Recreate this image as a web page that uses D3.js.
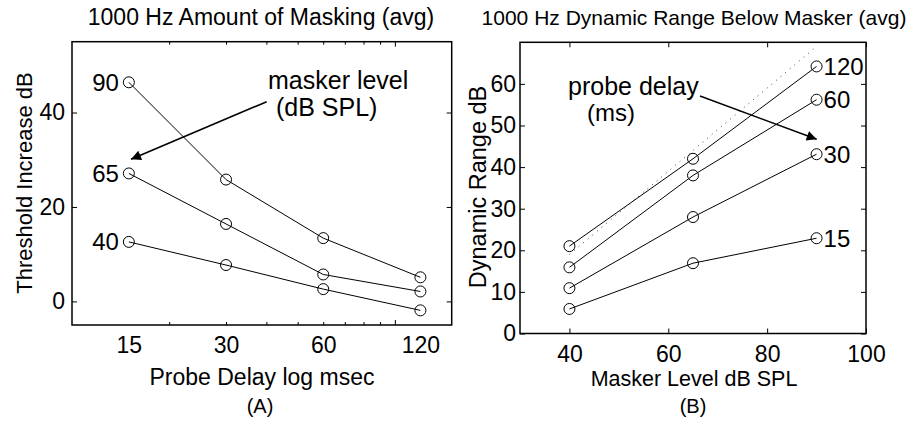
<!DOCTYPE html>
<html>
<head>
<meta charset="utf-8">
<script src="https://cdn.jsdelivr.net/npm/d3@7"></script>
<style>
  body { margin: 0; background: #fff; }
  svg { display: block; font-family: "Liberation Sans", Arial, Helvetica, sans-serif; }
  .tick line { stroke: #000; }
  .tick text { fill: #000; }
</style>
</head>
<body>
<div id="chart"></div>
<script>
// ---- panel A data: threshold increase vs probe delay
var delaysA = [15, 30, 60, 120];
var maskerLevels = [90, 65, 40];
var shift90 = [46.4, 25.8, 13.4, 5.1];
var shift65 = [27.1, 16.4, 5.7, 2.1];
var shift40 = [12.6, 7.7, 2.6, -1.9];
var xTickLabelsA = [15, 30, 60, 120];
var xMinorTicksA = [20, 30, 40, 50, 60, 70, 80, 90];
var xMajorTicksA = [100];
var yTicksA = [0, 20, 40];

// ---- panel B data: dynamic range vs masker level
var maskerB = [40, 65, 90];
var probeDelays = [120, 60, 30, 15];
var range120 = [21, 42, 64.2];
var range60 = [15.9, 38, 56.2];
var range30 = [10.9, 28, 43.1];
var range15 = [5.9, 16.9, 22.9];
var refLineX = [40, 90];
var refLineY = [19, 69];
var xTicksB = [40, 60, 80, 100];
var yTicksB = [0, 10, 20, 30, 40, 50, 60];

var width = 909, height = 422;
var tickFont = 23, annFont = 24, noteFont = 25;

var svg = d3.select("#chart").append("svg")
    .attr("width", width)
    .attr("height", height);

svg.append("defs").append("marker")
    .attr("id", "arrow")
    .attr("viewBox", "0 0 10 10")
    .attr("refX", 10).attr("refY", 5)
    .attr("markerUnits", "userSpaceOnUse")
    .attr("markerWidth", 16).attr("markerHeight", 10)
    .attr("orient", "auto")
    .append("path")
    .attr("d", "M0,0 L10,5 L0,10 z")
    .attr("fill", "#000");

function styleAxis(g) {
    g.select(".domain").remove();
    g.selectAll(".tick text").attr("font-size", tickFont);
}

function drawBox(g, x0, x1, y0, y1) {
    g.append("rect")
        .attr("x", x0).attr("y", y1)
        .attr("width", x1 - x0).attr("height", y0 - y1)
        .attr("fill", "none")
        .attr("stroke", "#000")
        .attr("stroke-width", 1.5);
}

function drawSeries(g, x, y, xs, ys) {
    var pts = xs.map(function (d, i) { return [x(d), y(ys[i])]; });
    g.append("path")
        .attr("d", d3.line()(pts))
        .attr("fill", "none")
        .attr("stroke", "#000")
        .attr("stroke-width", 1);
    g.selectAll(null)
        .data(pts)
        .enter()
        .append("circle")
        .attr("cx", function (p) { return p[0]; })
        .attr("cy", function (p) { return p[1]; })
        .attr("r", 5.5)
        .attr("fill", "none")
        .attr("stroke", "#000")
        .attr("stroke-width", 1);
}

function addText(g, x, y, str, size, anchor) {
    return g.append("text")
        .attr("x", x).attr("y", y)
        .attr("font-size", size)
        .attr("text-anchor", anchor || "middle")
        .attr("fill", "#000")
        .text(str);
}

// ================= panel A =================
var gA = svg.append("g");
var xA = d3.scaleLog().domain([10, 150]).range([72, 451.7]);
var yA = d3.scaleLinear().domain([-5, 55]).range([325, 41.7]);

gA.append("g").attr("transform", "translate(0,325)")
    .call(d3.axisBottom(xA).tickValues(xTickLabelsA).tickSize(0).tickPadding(12).tickFormat(d3.format("d")))
    .call(styleAxis);
gA.append("g").attr("transform", "translate(0,325)")
    .call(d3.axisBottom(xA).tickValues(xMinorTicksA).tickSize(-3).tickFormat(""))
    .call(styleAxis);
gA.append("g").attr("transform", "translate(0,325)")
    .call(d3.axisBottom(xA).tickValues(xMajorTicksA).tickSize(-5).tickFormat(""))
    .call(styleAxis);
gA.append("g").attr("transform", "translate(0,41.7)")
    .call(d3.axisTop(xA).tickValues(xMinorTicksA).tickSize(-3).tickFormat(""))
    .call(styleAxis);
gA.append("g").attr("transform", "translate(0,41.7)")
    .call(d3.axisTop(xA).tickValues(xMajorTicksA).tickSize(-5).tickFormat(""))
    .call(styleAxis);
gA.append("g").attr("transform", "translate(72,0)")
    .call(d3.axisLeft(yA).tickValues(yTicksA).tickSize(-5).tickPadding(7))
    .call(styleAxis);
gA.append("g").attr("transform", "translate(451.7,0)")
    .call(d3.axisRight(yA).tickValues(yTicksA).tickSize(-5).tickFormat(""))
    .call(styleAxis);
drawBox(gA, 72, 451.7, 325, 41.7);

[shift90, shift65, shift40].forEach(function (s, i) {
    drawSeries(gA, xA, yA, delaysA, s);
    addText(gA, xA(delaysA[0]) - 10, yA(s[0]), maskerLevels[i], annFont, "end")
        .attr("dominant-baseline", "central");
});

gA.append("line")
    .attr("x1", 266.7).attr("y1", 101.7)
    .attr("x2", 131).attr("y2", 159.3)
    .attr("stroke", "#000").attr("stroke-width", 1.6)
    .attr("marker-end", "url(#arrow)");
addText(gA, 268, 89, "masker level", noteFont, "start");
addText(gA, 276, 116, "(dB SPL)", noteFont, "start");

addText(gA, 261, 25, "1000 Hz Amount of Masking (avg)", 23);
addText(gA, 262, 385, "Probe Delay log msec", 23);
addText(gA, 260, 413, "(A)", 20);
addText(gA, 0, 0, "Threshold Increase dB", 22)
    .attr("transform", "translate(32,183) rotate(-90)");

// ================= panel B =================
var gB = svg.append("g");
var xB = d3.scaleLinear().domain([30, 100]).range([520, 866]);
var yB = d3.scaleLinear().domain([0, 70]).range([333.5, 42.3]);

gB.append("g").attr("transform", "translate(0,333.5)")
    .call(d3.axisBottom(xB).tickValues(xTicksB).tickSize(-5).tickPadding(12))
    .call(styleAxis);
gB.append("g").attr("transform", "translate(0,42.3)")
    .call(d3.axisTop(xB).tickValues(xTicksB).tickSize(-5).tickFormat(""))
    .call(styleAxis);
gB.append("g").attr("transform", "translate(520,0)")
    .call(d3.axisLeft(yB).tickValues(yTicksB).tickSize(-5).tickPadding(4))
    .call(styleAxis);
gB.append("g").attr("transform", "translate(866,0)")
    .call(d3.axisRight(yB).tickValues(yTicksB).tickSize(-5).tickFormat(""))
    .call(styleAxis);
drawBox(gB, 520, 866, 333.5, 42.3);

gB.append("path")
    .attr("d", d3.line()(refLineX.map(function (d, i) { return [xB(d), yB(refLineY[i])]; })))
    .attr("fill", "none")
    .attr("stroke", "#444")
    .attr("stroke-width", 1)
    .attr("stroke-dasharray", "1,5");

[range120, range60, range30, range15].forEach(function (s, i) {
    drawSeries(gB, xB, yB, maskerB, s);
    addText(gB, xB(maskerB[2]) + 7, yB(s[2]), probeDelays[i], annFont, "start")
        .attr("dominant-baseline", "central");
});

gB.append("line")
    .attr("x1", 700).attr("y1", 96)
    .attr("x2", 816.7).attr("y2", 139.3)
    .attr("stroke", "#000").attr("stroke-width", 1.6)
    .attr("marker-end", "url(#arrow)");
addText(gB, 568, 95, "probe delay", noteFont, "start");
addText(gB, 587, 121, "(ms)", 24, "start");

addText(gB, 694, 25, "1000 Hz Dynamic Range Below Masker (avg)", 21);
addText(gB, 694, 386, "Masker Level dB SPL", 21.5);
addText(gB, 693, 413, "(B)", 20);
addText(gB, 0, 0, "Dynamic Range dB", 23.5)
    .attr("transform", "translate(486,187) rotate(-90)");
</script>
</body>
</html>
